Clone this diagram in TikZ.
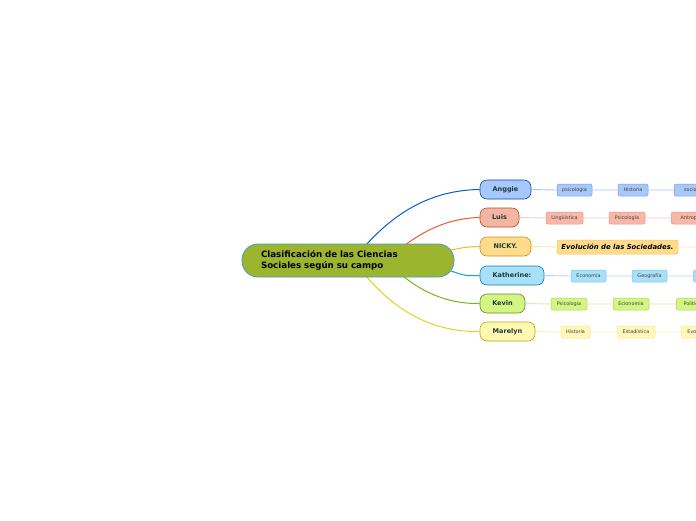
\documentclass[tikz,border=0pt]{standalone}
\usepackage{fontspec}
\setmainfont{DejaVu Sans}
\begin{document}
\begin{tikzpicture}[x=1pt,y=-1pt,
  central/.style={draw=#1, line width=0.8pt, fill=cfill, rounded corners=16pt, minimum height=33pt, text width=180pt, inner xsep=16pt, align=left, font=\fontsize{8.7}{11}\selectfont\bfseries, text=black},
  topic/.style={draw=#1!80!black, line width=0.6pt, rounded corners=7pt, minimum height=19pt, inner sep=0pt, font=\fontsize{6.5}{7}\selectfont\bfseries, text=labtxt},
  sub/.style={draw=#1, line width=0.5pt, rounded corners=2pt, minimum height=12pt, inner sep=0pt, font=\fontsize{4.9}{5}\selectfont, text=subtxt},
  conn/.style={line width=1pt, draw=#1},
  lite/.style={line width=0.9pt, draw=#1}]
\definecolor{cfill}{HTML}{9DB52E}
\definecolor{cborder}{HTML}{4A9AC8}
\definecolor{labtxt}{HTML}{1C3A3A}
\definecolor{subtxt}{HTML}{404040}
\definecolor{aC}{HTML}{0A5CD0}\definecolor{aF}{HTML}{A6C8FF}\definecolor{aS}{HTML}{A8C8F8}\definecolor{aB}{HTML}{6E9EF0}\definecolor{aL}{HTML}{A8C6F2}
\definecolor{lC}{HTML}{F05A28}\definecolor{lF}{HTML}{F5B5A3}\definecolor{lS}{HTML}{F8B8A8}\definecolor{lB}{HTML}{F09080}\definecolor{lL}{HTML}{F8C8BA}
\definecolor{nC}{HTML}{F5B820}\definecolor{nF}{HTML}{FFDC8C}\definecolor{nS}{HTML}{FFDC8C}\definecolor{nB}{HTML}{F8C850}\definecolor{nL}{HTML}{FFE4A8}
\definecolor{kC}{HTML}{10A0E8}\definecolor{kF}{HTML}{A8E0F8}\definecolor{kS}{HTML}{A8E0F8}\definecolor{kB}{HTML}{70C8F0}\definecolor{kL}{HTML}{A8DCF5}
\definecolor{vC}{HTML}{78B41E}\definecolor{vF}{HTML}{D4F584}\definecolor{vS}{HTML}{D4F584}\definecolor{vB}{HTML}{A8D850}\definecolor{vL}{HTML}{D4ECAC}
\definecolor{mC}{HTML}{E8D020}\definecolor{mF}{HTML}{FFF8B0}\definecolor{mS}{HTML}{FFF8B8}\definecolor{mB}{HTML}{F8E888}\definecolor{mL}{HTML}{FFF0B0}
\path[use as bounding box] (0,0) rectangle (696,520);
\clip (0,0) rectangle (696,520);
\fill[white] (0,0) rectangle (696,520);

% start points on central node
\coordinate (sA) at (366,245);
\coordinate (sL) at (405,245);
\coordinate (sN) at (451,250);
\coordinate (sK) at (451,271);
\coordinate (sV) at (403,276);
\coordinate (sM) at (366,276);

% topic nodes
\node[topic=aC, fill=aF, minimum width=51pt] (anggie) at (505.5,189.5) {Anggie};
\node[topic=lC, fill=lF, minimum width=39pt] (luis) at (499.5,217.5) {Luis};
\node[topic=nC, fill=nF, minimum width=51pt] (nicky) at (505.5,246.5) {NICKY.};
\node[topic=kC, fill=kF, minimum width=64pt] (kath) at (512,275.5) {Katherine:};
\node[topic=vC, fill=vF, minimum width=45pt] (kevin) at (502.5,303.5) {Kevin};
\node[topic=mC, fill=mF, minimum width=55pt] (mare) at (507.5,331.5) {Marelyn};

% curves
\draw[conn=aC] (sA) .. controls (402,205) and (440,190) .. (anggie.west);
\draw[conn=lC] (sL) .. controls (428,228) and (452,218) .. (luis.west);
\draw[conn=nC] (sN) .. controls (466,247) .. (nicky.west);
\draw[conn=kC] (sK) .. controls (466,276) .. (kath.west);
\draw[conn=vC] (sV) .. controls (426,295) and (452,304) .. (kevin.west);
\draw[conn=mC] (sM) .. controls (402,318) and (440,332) .. (mare.west);

% central node
\node[central=cborder] (c) at (348,260.5) {\hspace*{3pt}Clasificación de las Ciencias\\\hspace*{3pt}Sociales según su campo};

% sub nodes: Anggie
\node[sub=aB, fill=aS, minimum width=35pt] (a1) at (574.5,190) {psicologia};
\node[sub=aB, fill=aS, minimum width=30pt] (a2) at (633,190) {Historia};
\node[sub=aB, fill=aS, minimum width=44pt, anchor=west] (a3) at (674,190) {sociología};
\draw[lite=aL] (anggie.east) -- (a1.west) (a1.east) -- (a2.west) (a2.east) -- (a3.west);
% Luis
\node[sub=lB, fill=lS, minimum width=37pt] (l1) at (564.5,218) {Lingüística};
\node[sub=lB, fill=lS, minimum width=36pt] (l2) at (627,218) {Psicología};
\node[sub=lB, fill=lS, minimum width=50pt, anchor=west] (l3) at (671,218) {Antropología};
\draw[lite=lL] (luis.east) -- (l1.west) (l1.east) -- (l2.west) (l2.east) -- (l3.west);
% NICKY
\node[sub=nB, fill=nS, minimum width=121pt, minimum height=14pt, font=\fontsize{6.9}{7}\selectfont\bfseries\itshape, text=black] (n1) at (617.5,247) {Evolución de las Sociedades.};
\coordinate (nEnd) at (700,247);
\draw[lite=nL] (nicky.east) -- (n1.west) (n1.east) -- (nEnd);
% Katherine
\node[sub=kB, fill=kS, minimum width=35pt] (k1) at (588.5,276) {Economía};
\node[sub=kB, fill=kS, minimum width=35pt] (k2) at (649.5,276) {Geografía};
\node[sub=kB, fill=kS, minimum width=35pt, anchor=west] (k3) at (693,276) {Historia};
\draw[lite=kL] (kath.east) -- (k1.west) (k1.east) -- (k2.west) (k2.east) -- (k3.west);
% Kevin
\node[sub=vB, fill=vS, minimum width=36pt] (v1) at (569,304) {Psicologia};
\node[sub=vB, fill=vS, minimum width=36pt] (v2) at (631,304) {Ecionomia};
\node[sub=vB, fill=vS, minimum width=32pt, anchor=west] (v3) at (676,304) {Politica};
\draw[lite=vL] (kevin.east) -- (v1.west) (v1.east) -- (v2.west) (v2.east) -- (v3.west);
% Marelyn
\node[sub=mB, fill=mS, minimum width=29pt] (m1) at (575.5,332) {Historia};
\node[sub=mB, fill=mS, minimum width=38pt] (m2) at (636,332) {Estadística};
\node[sub=mB, fill=mS, minimum width=36pt, anchor=west] (m3) at (681,332) {Evolución};
\draw[lite=mL] (mare.east) -- (m1.west) (m1.east) -- (m2.west) (m2.east) -- (m3.west);
\end{tikzpicture}
\end{document}
